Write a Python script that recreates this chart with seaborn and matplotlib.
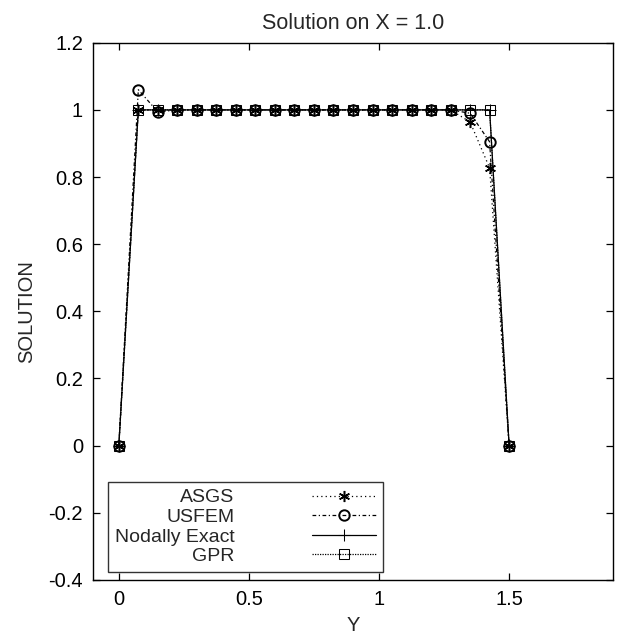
import pandas as pd
import matplotlib
matplotlib.use("Agg")
import matplotlib.pyplot as plt
import seaborn as sns

# nodes along Y (spacing 0.075)
y_nodes = [round(0.075 * i, 3) for i in range(21)]

asgs = [0.0] + [1.0] * 17 + [0.964, 0.827, 0.0]
usfem = [0.0, 1.06, 0.994] + [1.0] * 15 + [0.99, 0.905, 0.0]
nodally_exact = [0.0] + [1.0] * 19 + [0.0]
gpr = [0.0] + [1.0] * 19 + [0.0]

series = [
    ("ASGS", asgs, dict(marker=(6, 2, 0), linestyle=(0, (1, 2.5)), markersize=8,
                        markeredgewidth=1.1)),
    ("USFEM", usfem, dict(marker="o", linestyle=(0, (3, 2, 1, 2)), markersize=7.5,
                          markerfacecolor="none", markeredgewidth=1.4)),
    ("Nodally Exact", nodally_exact, dict(marker="+", linestyle="-", markersize=8)),
    ("GPR", gpr, dict(marker="s", linestyle=(0, (1, 1)), markersize=7,
                      markerfacecolor="none")),
]

sns.set_style("ticks")
plt.rcParams["font.family"] = ["Liberation Sans", "DejaVu Sans"]
plt.rcParams["axes.unicode_minus"] = False

fig = plt.figure(figsize=(6.27, 6.38), dpi=100)
ax = fig.add_axes([0.148, 0.091, 0.830, 0.842])

for name, vals, style in series:
    df = pd.DataFrame({"Y": y_nodes, "SOLUTION": vals})
    sns.lineplot(data=df, x="Y", y="SOLUTION", ax=ax, color="black",
                 linewidth=0.9, label=name, markeredgecolor="black", **style)

ax.set_xlim(-0.1, 1.9)
ax.set_ylim(-0.4, 1.2)
ax.set_xticks([0, 0.5, 1, 1.5])
ax.set_xticklabels(["0", "0.5", "1", "1.5"])
yt = [-0.4, -0.2, 0, 0.2, 0.4, 0.6, 0.8, 1, 1.2]
ax.set_yticks(yt)
ax.set_yticklabels(["%g" % v for v in yt])
ax.tick_params(direction="in", top=True, right=True, length=5, width=0.9,
               labelsize=14.5, colors="black", pad=7)
for s in ax.spines.values():
    s.set_visible(True)
    s.set_color("black")
    s.set_linewidth(1.0)

ax.set_xlabel("Y", fontsize=14.5, labelpad=5)
ax.set_ylabel("SOLUTION", fontsize=14.5, labelpad=9)
ax.set_title("Solution on X = 1.0", fontsize=15.5, pad=10)

leg = ax.legend(loc="lower left", bbox_to_anchor=(0.029, 0.015), borderaxespad=0,
                markerfirst=False, fontsize=14, handlelength=3.3, frameon=True,
                fancybox=False, labelspacing=0.1, handletextpad=4.0,
                borderpad=0.35)
leg.get_frame().set_edgecolor("black")
leg.get_frame().set_linewidth(1.0)

fig.savefig("out.png", dpi=100)
